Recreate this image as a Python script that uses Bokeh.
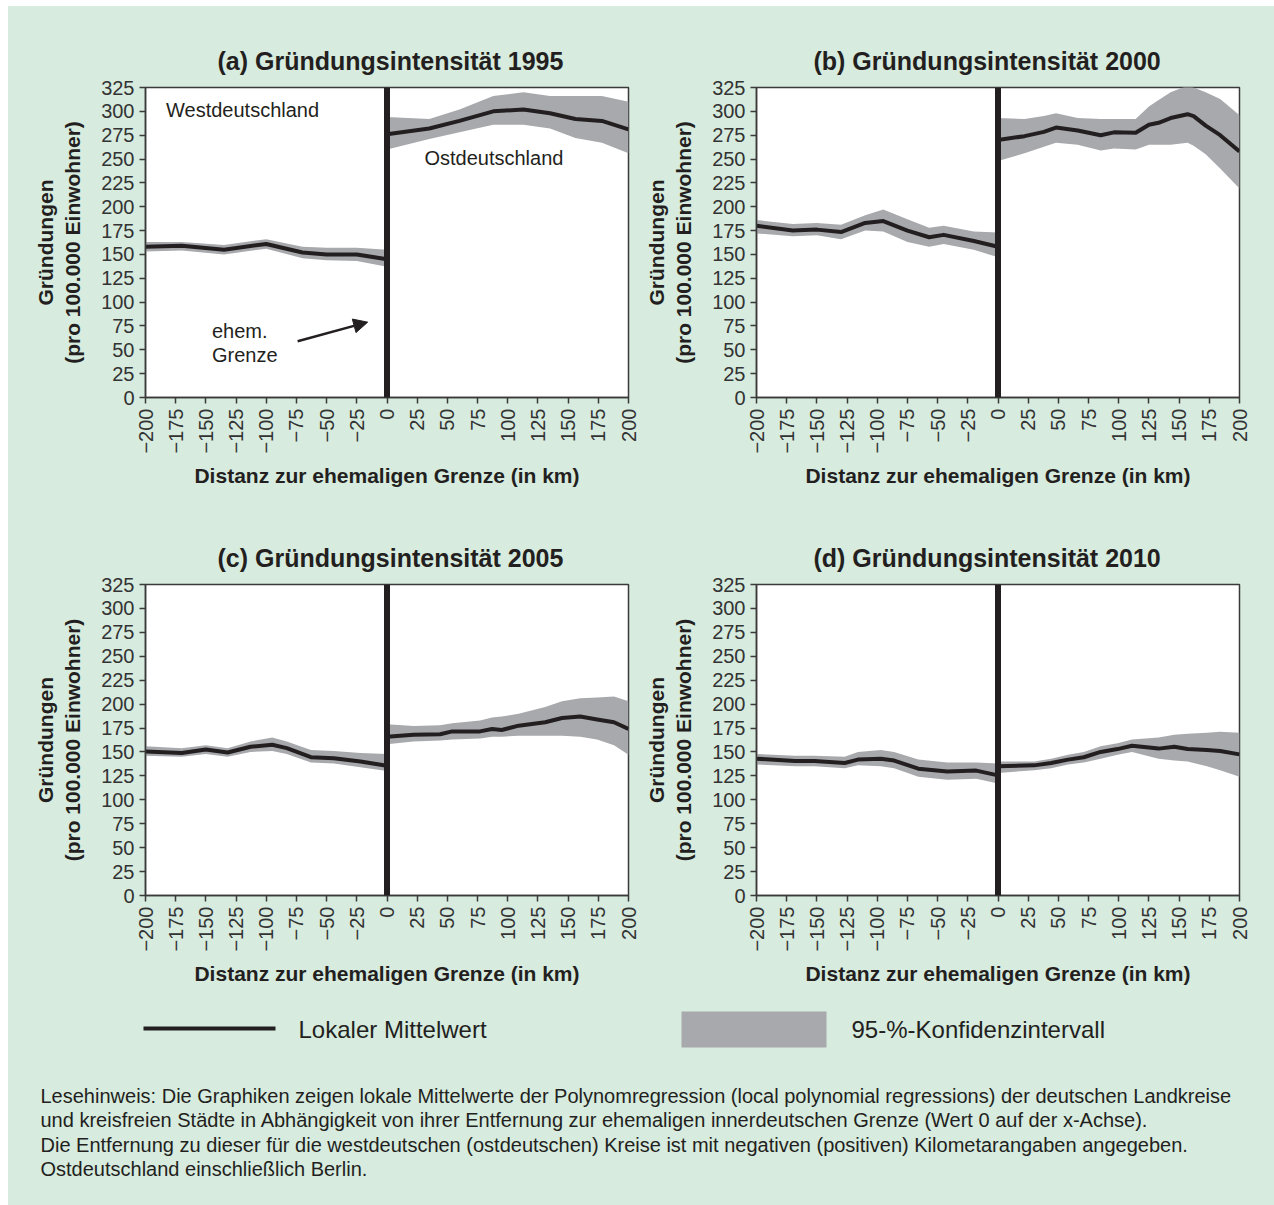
import math

from bokeh.embed import file_html
from bokeh.layouts import column, row, Spacer
from bokeh.models import Arrow, FixedTicker, Label, NormalHead, Range1d, Span
from bokeh.plotting import figure
from bokeh.resources import INLINE

# ---------------------------------------------------------------- data
x_ticks = [-200, -175, -150, -125, -100, -75, -50, -25, 0,
           25, 50, 75, 100, 125, 150, 175, 200]
x_tick_labels = ["\u2212200", "\u2212175", "\u2212150", "\u2212125", "\u2212100",
                 "\u221275", "\u221250", "\u221225", "0",
                 "25", "50", "75", "100", "125", "150", "175", "200"]
y_ticks = [0, 25, 50, 75, 100, 125, 150, 175, 200, 225, 250, 275, 300, 325]

# (a) 1995
west_x_1995 = [-200, -170, -135, -100, -70, -50, -25, 0]
west_mean_1995 = [158, 159, 155, 161, 152, 150, 150, 145]
west_lo_1995 = [153, 154, 150, 156, 146, 144, 143, 137]
west_hi_1995 = [163, 163, 160, 166, 158, 157, 157, 155]
east_x_1995 = [0, 35, 60, 88, 113, 135, 156, 178, 200]
east_mean_1995 = [276, 282, 290, 300, 302, 298, 292, 290, 281]
east_lo_1995 = [260, 271, 278, 286, 286, 282, 272, 267, 256]
east_hi_1995 = [294, 292, 302, 316, 320, 316, 316, 316, 310]

# (b) 2000
west_x_2000 = [-200, -170, -150, -130, -110, -95, -75, -57, -45, -20, 0]
west_mean_2000 = [180, 175, 176, 173.5, 183, 185, 175, 168, 170.5, 164, 158]
west_lo_2000 = [172, 169, 170, 166, 175, 174, 163, 158, 161, 155, 147]
west_hi_2000 = [186, 182, 183, 181, 191, 197, 187, 178, 180, 174, 173]
east_x_2000 = [0, 22, 38, 48, 66, 85, 96, 114, 125, 133, 143, 157, 162, 172, 184, 200]
east_mean_2000 = [270, 274, 278.5, 283, 280, 275, 278, 277.5, 286, 288, 293, 297,
                  295, 285, 275, 258]
east_lo_2000 = [248, 256, 263, 267, 265, 259, 261, 260, 265, 265, 265, 267,
                264, 255, 240, 219]
east_hi_2000 = [293, 292, 295, 298, 293, 292, 292, 292, 305, 312, 320, 327,
                325, 320, 313, 296]

# (c) 2005
west_x_2005 = [-200, -170, -150, -132, -113, -95, -83, -63, -44, -22, 0]
west_mean_2005 = [150.5, 149, 152.5, 149.5, 155.5, 157.5, 154, 144.5, 143.5, 140, 135.5]
west_lo_2005 = [146, 145, 148, 145, 150, 151, 148, 139, 138, 134, 130]
west_hi_2005 = [156, 154, 157, 154, 161, 165, 161, 152, 151, 149, 148]
east_x_2005 = [0, 22, 44, 54, 77, 87, 95, 109, 131, 145, 160, 174, 188, 200]
east_mean_2005 = [166, 168, 168.5, 171.5, 171.5, 174, 173, 177.5, 181, 185.5,
                  187, 184, 181, 174]
east_lo_2005 = [158, 161, 162, 163, 164, 166, 166, 167, 167, 167, 166, 163, 157, 147]
east_hi_2005 = [179, 177, 178, 180, 183, 186, 187, 190, 197, 203, 206, 207, 208, 203]

# (d) 2010
west_x_2010 = [-200, -168, -152, -127, -116, -97, -86, -66, -42, -18, 0]
west_mean_2010 = [143, 140.5, 140.5, 138.5, 142, 143, 141, 132.5, 129.5, 130.5, 125.5]
west_lo_2010 = [137, 135, 135, 133, 136, 135, 133, 124, 121, 122, 117]
west_hi_2010 = [148, 146, 146, 145, 150, 152, 150, 142, 139, 139, 138]
east_x_2010 = [0, 30, 44, 58, 71, 85, 99, 111, 133, 146, 157, 173, 184, 200]
east_mean_2010 = [135, 136, 138.5, 142, 144.5, 150, 153, 156.5, 153.5, 155.5,
                  153, 152, 151, 147.5]
east_lo_2010 = [128, 131, 133, 137, 139, 143, 147, 150, 143, 141, 140, 135, 131, 124]
east_hi_2010 = [140, 140, 143, 147, 150, 156, 159, 163, 165, 168, 169, 170, 171, 170]

titles = ["(a) Gründungsintensität 1995", "(b) Gründungsintensität 2000",
          "(c) Gründungsintensität 2005", "(d) Gründungsintensität 2010"]

y_axis_title = "Gründungen\n(pro 100.000 Einwohner)"
x_axis_title = "Distanz zur ehemaligen Grenze (in km)"

legend_labels = ["Lokaler Mittelwert", "95-%-Konfidenzintervall"]

note_lines = [
    "Lesehinweis: Die Graphiken zeigen lokale Mittelwerte der Polynomregression "
    "(local polynomial regressions) der deutschen Landkreise",
    "und kreisfreien Städte in Abhängigkeit von ihrer Entfernung zur ehemaligen "
    "innerdeutschen Grenze (Wert 0 auf der x-Achse).",
    "Die Entfernung zu dieser für die westdeutschen (ostdeutschen) Kreise ist mit "
    "negativen (positiven) Kilometarangaben angegeben.",
    "Ostdeutschland einschließlich Berlin.",
]

# ---------------------------------------------------------------- style
GREEN = "#d7ebdf"
BAND = "#a7a9ac"
INK = "#231f20"
AXIS = "#3a3a3a"
FONT = "Liberation Sans"


def make_panel(title, west, east, width, height, left, right, top, bottom,
               title_offset):
    p = figure(width=width, height=height,
               x_range=Range1d(-200, 200), y_range=Range1d(0, 325),
               output_backend="svg", toolbar_location=None, title=title,
               min_border_left=left, min_border_right=right,
               min_border_top=top, min_border_bottom=bottom,
               background_fill_color="white", border_fill_color=GREEN,
               outline_line_color=AXIS, outline_line_width=1.5)
    p.grid.visible = False

    p.title.text_font = FONT
    p.title.text_font_style = "bold"
    p.title.text_font_size = "25px"
    p.title.text_color = INK
    p.title.align = "left"
    p.title.offset = title_offset
    p.title.standoff = 26

    for ax in (p.xaxis[0], p.yaxis[0]):
        ax.axis_line_color = AXIS
        ax.axis_line_width = 1.5
        ax.major_tick_line_color = AXIS
        ax.major_tick_line_width = 1.5
        ax.major_tick_in = 0
        ax.major_tick_out = 6
        ax.minor_tick_in = 0
        ax.minor_tick_out = 0
        ax.major_label_text_font = FONT
        ax.major_label_text_font_size = "20px"
        ax.major_label_text_color = "#333333"
        ax.axis_label_text_font = FONT
        ax.axis_label_text_font_style = "bold"
        ax.axis_label_text_font_size = "21px"
        ax.axis_label_text_color = INK

    p.xaxis.ticker = FixedTicker(ticks=x_ticks)
    p.xaxis.major_label_overrides = dict(zip(x_ticks, x_tick_labels))
    p.xaxis.major_label_orientation = math.pi / 2
    p.xaxis.major_label_standoff = 5
    p.xaxis.axis_label = x_axis_title
    p.xaxis.axis_label_standoff = 7

    p.yaxis.ticker = FixedTicker(ticks=y_ticks)
    p.yaxis.major_label_standoff = 5
    p.yaxis.axis_label = y_axis_title
    p.yaxis.axis_label_standoff = 14

    for xs, mean, lo, hi in (west, east):
        p.varea(x=xs, y1=lo, y2=hi, fill_color=BAND, fill_alpha=1.0)
        p.line(x=xs, y=mean, line_width=4, line_color=INK, line_join="round")

    # the former inner-German border at 0 km
    p.add_layout(Span(location=0, dimension="height", line_color=INK, line_width=6))
    return p


pa = make_panel(titles[0],
                (west_x_1995, west_mean_1995, west_lo_1995, west_hi_1995),
                (east_x_1995, east_mean_1995, east_lo_1995, east_hi_1995),
                633, 514, 137, 13, 81, 123, 72)
pb = make_panel(titles[1],
                (west_x_2000, west_mean_2000, west_lo_2000, west_hi_2000),
                (east_x_2000, east_mean_2000, east_lo_2000, east_hi_2000),
                633, 514, 114, 35, 81, 123, 57)
pc = make_panel(titles[2],
                (west_x_2005, west_mean_2005, west_lo_2005, west_hi_2005),
                (east_x_2005, east_mean_2005, east_lo_2005, east_hi_2005),
                633, 480, 137, 13, 64, 105, 72)
pd = make_panel(titles[3],
                (west_x_2010, west_mean_2010, west_lo_2010, west_hi_2010),
                (east_x_2010, east_mean_2010, east_lo_2010, east_hi_2010),
                633, 480, 114, 35, 64, 105, 57)

# annotations in panel (a)
for txt, x, y in (("Westdeutschland", -183, 301.5), ("Ostdeutschland", 31, 251),
                  ("ehem.", -145, 70), ("Grenze", -145, 45)):
    pa.add_layout(Label(x=x, y=y, text=txt, text_font=FONT,
                        text_font_size="20px", text_color=INK,
                        text_baseline="middle", text_align="left"))
pa.add_layout(Arrow(end=NormalHead(size=14, fill_color=INK, line_color=INK),
                    x_start=-74, y_start=59, x_end=-16, y_end=79,
                    line_color=INK, line_width=2.5))

# ---------------------------------------------------------------- legend + note
# this strip uses pixel-sized ranges, so positions below are in pixels
pl = figure(width=1266, height=205, x_range=Range1d(0, 1266), y_range=Range1d(0, 205),
            output_backend="svg", toolbar_location=None, min_border=0,
            x_axis_location=None, y_axis_location=None,
            background_fill_color=GREEN, border_fill_color=GREEN,
            outline_line_color=None)
pl.grid.visible = False

# legend swatches
pl.line(x=[135, 267], y=[177, 177], line_width=4, line_color=INK)
pl.quad(left=[673], right=[818], bottom=[158], top=[194],
        fill_color=BAND, line_color=None)
for txt, x in ((legend_labels[0], 290), (legend_labels[1], 843)):
    pl.add_layout(Label(x=x, y=176, text=txt, text_font=FONT,
                        text_font_size="24px", text_color=INK,
                        text_baseline="middle", text_align="left"))

for i, line in enumerate(note_lines):
    pl.add_layout(Label(x=32, y=110 - i * 24.5, text=line, text_font=FONT,
                        text_font_size="20px", text_color=INK,
                        text_baseline="middle", text_align="left"))

grid = column(row(pa, pb), row(pc, pd), pl,
              styles={"background-color": GREEN})
page = column(Spacer(width=1, height=6), row(Spacer(width=8, height=1), grid))

open("out.html", "w").write(file_html(page, INLINE))
